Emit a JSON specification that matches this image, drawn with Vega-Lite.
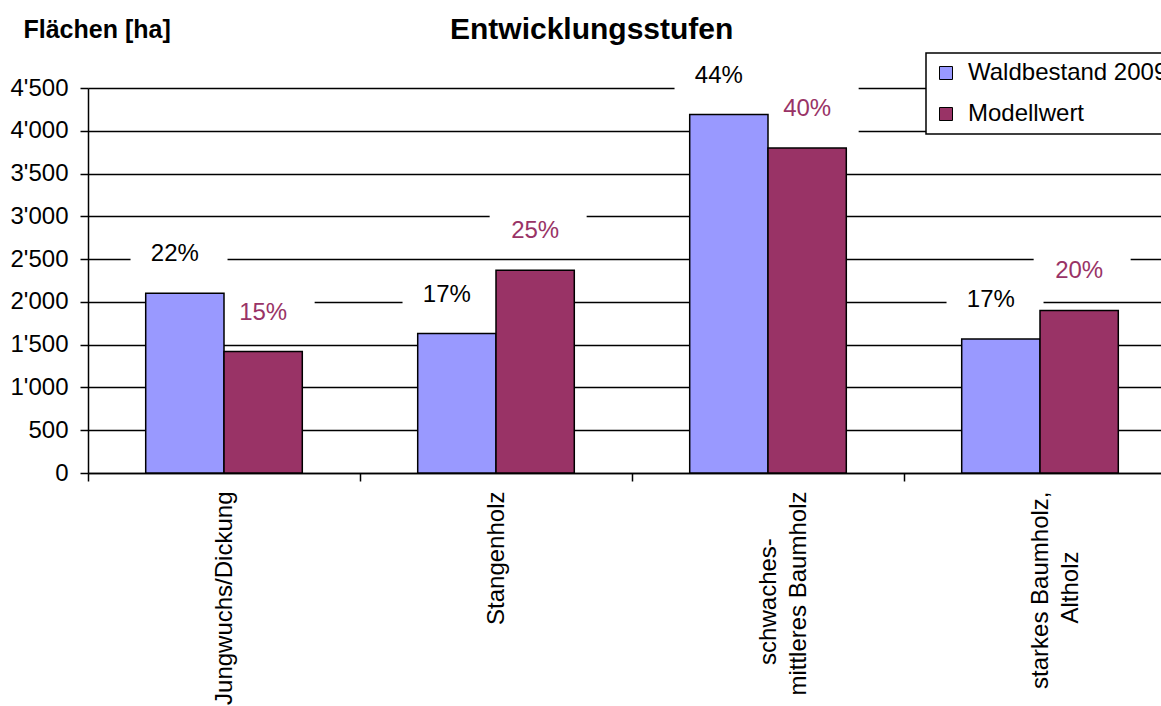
{
  "$schema": "https://vega.github.io/schema/vega-lite/v6.json",
  "autosize": {"type": "none"},
  "padding": {"left": 88, "top": 88, "right": 0, "bottom": 233},
  "width": 1073,
  "height": 385,
  "background": "white",
  "config": {
    "font": "Liberation Sans",
    "view": {"stroke": null},
    "legend": {"strokeWidth": 1.5}
  },
  "title": {
    "text": "Entwicklungsstufen",
    "anchor": "start",
    "frame": "group",
    "dx": 362,
    "dy": 52,
    "offset": 0,
    "fontSize": 30,
    "fontWeight": "bold",
    "color": "black",
    "baseline": "alphabetic"
  },
  "data": {
    "values": [
      {"cat": "Jungwuchs/Dickung", "series": "Waldbestand 2009", "value": 2100, "label": "22%"},
      {"cat": "Jungwuchs/Dickung", "series": "Modellwert", "value": 1420, "label": "15%"},
      {"cat": "Stangenholz", "series": "Waldbestand 2009", "value": 1630, "label": "17%"},
      {"cat": "Stangenholz", "series": "Modellwert", "value": 2370, "label": "25%"},
      {"cat": "schwaches-mittleres Baumholz", "series": "Waldbestand 2009", "value": 4190, "label": "44%"},
      {"cat": "schwaches-mittleres Baumholz", "series": "Modellwert", "value": 3800, "label": "40%"},
      {"cat": "starkes Baumholz, Altholz", "series": "Waldbestand 2009", "value": 1565, "label": "17%"},
      {"cat": "starkes Baumholz, Altholz", "series": "Modellwert", "value": 1900, "label": "20%"}
    ]
  },
  "encoding": {
    "x": {
      "field": "cat",
      "type": "nominal",
      "sort": ["Jungwuchs/Dickung", "Stangenholz", "schwaches-mittleres Baumholz", "starkes Baumholz, Altholz"],
      "scale": {"range": [0, 1088], "paddingInner": 0, "paddingOuter": 0},
      "axis": {
        "title": null,
        "labelAngle": -90,
        "labelFontSize": 24,
        "labelColor": "black",
        "labelPadding": 10,
        "labelLineHeight": 30,
        "labelLimit": 0,
        "labelExpr": "datum.value == 'schwaches-mittleres Baumholz' ? ['schwaches-\u00a0\u00a0\u00a0\u00a0\u00a0\u00a0\u00a0\u200b', 'mittleres Baumholz'] : datum.value == 'starkes Baumholz, Altholz' ? ['starkes Baumholz,', 'Altholz\u00a0\u00a0\u00a0\u00a0\u00a0\u00a0\u00a0\u00a0\u00a0\u200b'] : datum.value",
        "tickBand": "extent",
        "tickSize": 8,
        "tickColor": "black",
        "tickWidth": 1.5,
        "domainColor": "black",
        "domainWidth": 1.5,
        "grid": false,
        "labelOverlap": false
      }
    },
    "xOffset": {
      "field": "series",
      "type": "nominal",
      "sort": ["Waldbestand 2009", "Modellwert"],
      "scale": {"paddingInner": 0, "paddingOuter": 0.737}
    },
    "y": {
      "field": "value",
      "type": "quantitative",
      "scale": {"domain": [0, 4500], "nice": false},
      "axis": {
        "values": [0, 500, 1000, 1500, 2000, 2500, 3000, 3500, 4000, 4500],
        "labelExpr": "replace(format(datum.value, ','), ',', \"'\")",
        "labelFontSize": 24,
        "labelColor": "black",
        "labelPadding": 12,
        "tickSize": 8,
        "tickColor": "black",
        "tickWidth": 1.5,
        "domainColor": "black",
        "domainWidth": 1.5,
        "grid": true,
        "gridColor": "black",
        "gridWidth": 1.5,
        "title": "Flächen [ha]",
        "titleAngle": 0,
        "titleAlign": "left",
        "titleBaseline": "alphabetic",
        "titleX": -65,
        "titleY": -51,
        "titleFontSize": 25,
        "titleFontWeight": "bold",
        "titleColor": "black"
      }
    }
  },
  "layer": [
    {
      "transform": [{"filter": "datum.series == 'Waldbestand 2009'"}],
      "mark": {"type": "point", "shape": "M-1.12,-0.515H0.88V0.515H-1.12Z", "size": 9409, "filled": true, "color": "white", "opacity": 1, "strokeWidth": 0, "yOffset": -39}
    },
    {
      "transform": [{"filter": "datum.series == 'Modellwert'"}],
      "mark": {"type": "point", "shape": "M-0.938,-0.515H1.062V0.515H-0.938Z", "size": 9409, "filled": true, "color": "white", "opacity": 1, "strokeWidth": 0, "yOffset": -39}
    },
    {
      "mark": {"type": "bar", "stroke": "black", "strokeWidth": 1.5},
      "encoding": {
        "color": {
          "field": "series",
          "type": "nominal",
          "scale": {"domain": ["Waldbestand 2009", "Modellwert"], "range": ["#9999FF", "#993366"]},
          "legend": {
            "title": null,
            "orient": "none",
            "legendX": 838,
            "legendY": -35,
            "symbolType": "square",
            "symbolSize": 169,
            "symbolStrokeColor": "black",
            "symbolStrokeWidth": 1,
            "labelFontSize": 24,
            "labelColor": "black",
            "labelOffset": 10,
            "labelLimit": 0,
            "rowPadding": 17,
            "padding": 8,
            "strokeColor": "black",
            "fillColor": "white",
            "cornerRadius": 0
          }
        }
      }
    },
    {
      "transform": [{"filter": "datum.series == 'Waldbestand 2009'"}],
      "mark": {"type": "text", "dx": -10, "dy": -39, "fontSize": 24, "color": "black", "baseline": "middle", "align": "center"},
      "encoding": {"text": {"field": "label", "type": "nominal"}}
    },
    {
      "transform": [{"filter": "datum.series == 'Modellwert'"}],
      "mark": {"type": "text", "dx": 0, "dy": -39, "fontSize": 24, "color": "#993366", "baseline": "middle", "align": "center"},
      "encoding": {"text": {"field": "label", "type": "nominal"}}
    }
  ]
}
